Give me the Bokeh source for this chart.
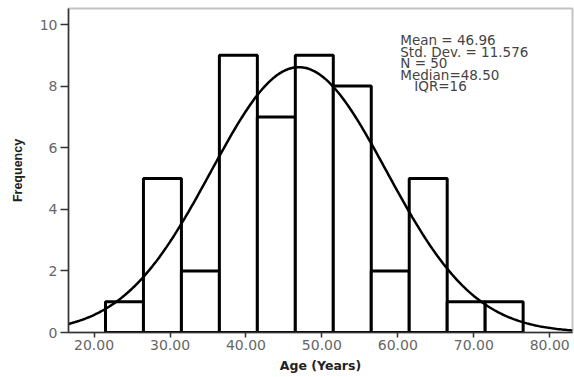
import numpy as np
from bokeh.plotting import figure
from bokeh.models import Range1d, FixedTicker, Label
from bokeh.embed import file_html
from bokeh.resources import INLINE

# ---- data ----
bin_left = [21.5, 26.5, 31.5, 36.5, 41.5, 46.5, 51.5, 56.5, 61.5, 66.5, 71.5]
bin_width = 5.0
counts = [1, 5, 2, 9, 7, 9, 8, 2, 5, 1, 1]
x_ticks = [20, 30, 40, 50, 60, 70, 80]
x_tick_labels = ["20.00", "30.00", "40.00", "50.00", "60.00", "70.00", "80.00"]
y_ticks = [0, 2, 4, 6, 8, 10]
stat_mean = 46.96
stat_sd = 11.576
stat_n = 50
stat_lines = ["Mean = 46.96", "Std. Dev. = 11.576", "N = 50", "Median=48.50", "IQR=16"]

X0, X1 = 16.63, 83.0
Y0, Y1 = 0.0, 10.52

p = figure(width=574, height=377, output_backend="svg", toolbar_location=None,
           x_range=Range1d(X0, X1), y_range=Range1d(Y0, Y1),
           min_border_left=68, min_border_right=2, min_border_top=8, min_border_bottom=45)
p.background_fill_color = "white"
p.border_fill_color = "white"
p.outline_line_color = "#c4c4c4"
p.outline_line_width = 2
p.grid.visible = False

right = [l + bin_width for l in bin_left]
p.quad(left=bin_left, right=right, bottom=0, top=counts,
       fill_color="white", line_color="black", line_width=3)

# fitted normal curve from the reported mean / sd / N
xs = np.linspace(X0, X1, 300)
ys = stat_n * bin_width * np.exp(-0.5 * ((xs - stat_mean) / stat_sd) ** 2) / (stat_sd * np.sqrt(2 * np.pi))
p.line(xs, ys, line_color="black", line_width=2.5)

fnt = "DejaVu Sans"
# x axis
xa = p.xaxis[0]
xa.ticker = FixedTicker(ticks=x_ticks)
xa.major_label_overrides = {t: s for t, s in zip(x_ticks, x_tick_labels)}
xa.minor_tick_line_color = None
xa.major_tick_out = 5
xa.major_tick_in = 0
xa.major_label_standoff = 2
xa.major_label_text_font = fnt
xa.major_label_text_font_size = "14px"
xa.major_label_text_color = "#666666"
xa.axis_label = "Age (Years)"
xa.axis_label_text_font = fnt
xa.axis_label_text_font_style = "bold"
xa.axis_label_text_font_size = "12.5px"
xa.axis_label_text_color = "#222222"
xa.axis_label_standoff = 5
xa.axis_line_color = "#333333"
xa.axis_line_width = 1.5
xa.major_tick_line_color = "#333333"
xa.major_tick_line_width = 1.5

ya = p.yaxis[0]
ya.ticker = FixedTicker(ticks=y_ticks)
ya.minor_tick_line_color = None
ya.major_tick_out = 8
ya.major_tick_in = 0
ya.major_label_standoff = 3
ya.major_label_text_font = fnt
ya.major_label_text_font_size = "14px"
ya.major_label_text_color = "#666666"
ya.axis_label = "Frequency"
ya.axis_label_text_font = "Liberation Sans"
ya.axis_label_text_font_style = "bold"
ya.axis_label_text_font_size = "12.5px"
ya.axis_label_text_color = "#222222"
ya.axis_label_standoff = 12
ya.axis_line_color = "#333333"
ya.axis_line_width = 1.5
ya.major_tick_line_color = "#333333"
ya.major_tick_line_width = 1.5

# statistics box
tx = 60.32
ty = 9.75
dy = 0.375
for i, s in enumerate(stat_lines):
    x = tx + (1.85 if s.startswith("IQR") else 0.0)
    p.add_layout(Label(x=x, y=ty - i * dy, text=s, text_font=fnt, text_font_size="13.5px",
                       text_color="#444444", text_baseline="top", text_align="left"))

open("out.html", "w").write(file_html(p, INLINE))
